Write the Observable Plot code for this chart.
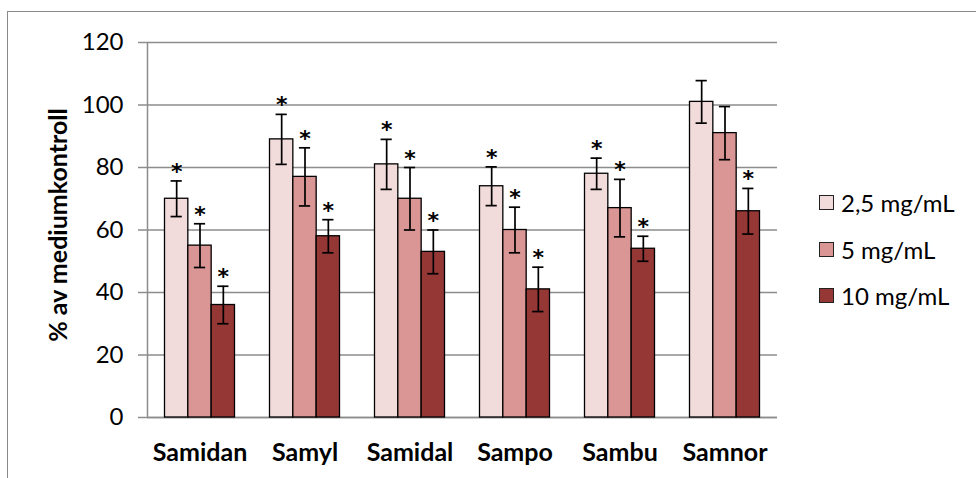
<!DOCTYPE html>
<html>
<head>
<meta charset="utf-8">
<script src="https://cdn.jsdelivr.net/npm/d3@7"></script>
<script src="https://cdn.jsdelivr.net/npm/@observablehq/plot@0.6"></script>
<style>
  html, body { margin: 0; padding: 0; background: #fff; }
  #wrap { position: relative; width: 976px; height: 478px; overflow: hidden; font-family: Lato, sans-serif; }
  #frame { position: absolute; left: 7px; top: 11px; width: 1200px; height: 800px;
           border-left: 1.5px solid #8a8a8a; border-top: 1.5px solid #8a8a8a; pointer-events: none; }
  #chart { position: absolute; left: 0; top: 0; }
  #legend { position: absolute; left: 819px; top: 179px; font-size: 24px; color: #000; }
  #legend .row { height: 46.7px; display: flex; align-items: center; }
  #legend .sw { width: 13px; height: 13px; border: 1px solid #222; margin-right: 7px; }
</style>
</head>
<body>
<div id="wrap">
  <div id="frame"></div>
  <div id="chart"></div>
  <div id="legend"></div>
</div>
<script>
const categories = ["Samidan", "Samyl", "Samidal", "Sampo", "Sambu", "Samnor"];
const series = ["2,5 mg/mL", "5 mg/mL", "10 mg/mL"];
const colors = ["#F2DCDB", "#D99694", "#953735"];

const values25 = [70, 89, 81, 74, 78, 101];
const values5  = [55, 77, 70, 60, 67, 91];
const values10 = [36, 58, 53, 41, 54, 66];

const err25 = [5.7, 8.0, 8.0, 6.2, 5.0, 6.8];
const err5  = [7.0, 9.3, 10.0, 7.3, 9.2, 8.5];
const err10 = [6.0, 5.3, 7.0, 7.1, 4.0, 7.3];

const sig25 = [true, true, true, true, true, false];
const sig5  = [true, true, true, true, true, false];
const sig10 = [true, true, true, true, true, true];

const yTicks = [0, 20, 40, 60, 80, 100, 120];
const yLabel = "% av mediumkontroll";

const vals = [values25, values5, values10];
const errs = [err25, err5, err10];
const sigs = [sig25, sig5, sig10];

// layout within each category group (Excel-like gap width 50%)
const groupUnits = series.length + 1.5;
const gapUnits = 0.75;
const capHalf = 0.24;

const data = categories.flatMap((c, i) => series.map((s, j) => ({
  cat: c, ser: s, idx: j, v: vals[j][i], e: errs[j][i], sig: sigs[j][i]
})));

const x1 = d => d.idx + gapUnits;
const x2 = d => d.idx + gapUnits + 1;
const xc = d => d.idx + gapUnits + 0.5;

const gridColor = "#8c8c8c";

const chart = Plot.plot({
  width: 976,
  height: 478,
  marginLeft: 147,
  marginRight: 199,
  marginTop: 42,
  marginBottom: 61,
  style: { fontFamily: "Lato, sans-serif", fontSize: "24px", color: "#000", background: "transparent" },
  fx: { domain: categories, padding: 0, label: null },
  x: { type: "linear", domain: [0, groupUnits], axis: null },
  y: { domain: [0, 120], label: null },
  color: { domain: series, range: colors },
  marks: [
    Plot.gridY(yTicks, { stroke: gridColor, strokeOpacity: 1, strokeWidth: 1.5 }),
    Plot.ruleY([0], { stroke: gridColor, strokeWidth: 1.5 }),
    Plot.ruleX([0], { y1: 0, y2: 120, stroke: gridColor, strokeWidth: 1.5, facetAnchor: "left" }),
    Plot.axisY(yTicks, { tickSize: 9, tickPadding: 15, stroke: gridColor, strokeWidth: 1.5, fill: "#000", fontSize: 24, label: null }),
    Plot.axisFx({ anchor: "bottom", tickSize: 0, tickPadding: 26, fontWeight: "bold", fontSize: 25, label: null }),
    Plot.rectY(data, { fx: "cat", x1, x2, y: "v", fill: "ser", stroke: "#000", strokeWidth: 1.3 }),
    Plot.ruleX(data, { fx: "cat", x: xc, y1: d => d.v - d.e, y2: d => d.v + d.e, stroke: "#000", strokeWidth: 1.7 }),
    Plot.ruleY(data, { fx: "cat", x1: d => xc(d) - capHalf, x2: d => xc(d) + capHalf, y: d => d.v + d.e, stroke: "#000", strokeWidth: 1.7 }),
    Plot.ruleY(data, { fx: "cat", x1: d => xc(d) - capHalf, x2: d => xc(d) + capHalf, y: d => d.v - d.e, stroke: "#000", strokeWidth: 1.7 }),
    Plot.text(data.filter(d => d.sig), { fx: "cat", x: xc, y: d => d.v + d.e, text: () => "*", dy: -9, fontSize: 22, fontWeight: "bold", fontFamily: "DejaVu Sans", fill: "#000" }),
    Plot.text([yLabel], { frameAnchor: "left", textAnchor: "middle", dx: -89, dy: -5, rotate: -90, fontWeight: "bold", fontSize: 25, fill: "#000", facetAnchor: "left" })
  ]
});
document.getElementById("chart").appendChild(chart);

const legend = document.getElementById("legend");
series.forEach((s, j) => {
  const row = document.createElement("div");
  row.className = "row";
  const sw = document.createElement("div");
  sw.className = "sw";
  sw.style.background = colors[j];
  const t = document.createElement("span");
  t.textContent = s;
  row.appendChild(sw);
  row.appendChild(t);
  legend.appendChild(row);
});
</script>
</body>
</html>
